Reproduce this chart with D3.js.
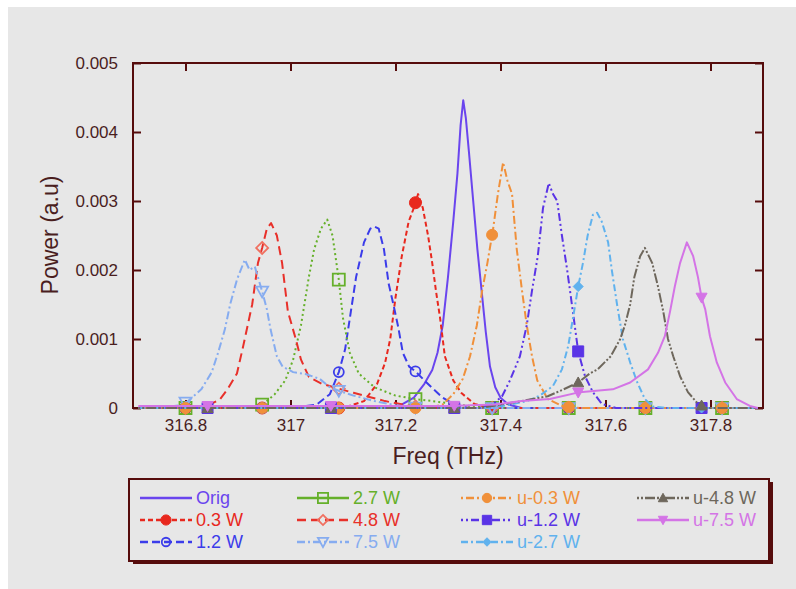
<!DOCTYPE html>
<html>
<head>
<meta charset="utf-8">
<script src="https://cdn.jsdelivr.net/npm/d3@7"></script>
<style>
  body { margin: 0; background: #ffffff; }
  svg { display: block; }
  text { font-family: "Liberation Sans", Arial, Helvetica, sans-serif; }
</style>
</head>
<body>
<svg id="chart" width="796" height="589"></svg>
<script>
// ---- axis ticks ----
const freqTicks = [316.8, 317, 317.2, 317.4, 317.6, 317.8];
const powerTicks = [0, 0.001, 0.002, 0.003, 0.004, 0.005];

// ---- spectra: [frequency (THz), power (a.u)] ----
const orig = [[316.71,0],[317.18,0],[317.21,0.00004],[317.235,0.00015],[317.255,0.00035],[317.27,0.00055],[317.28,0.0008],[317.29,0.0012],[317.3,0.0019],[317.31,0.0027],[317.318,0.0034],[317.324,0.0041],[317.329,0.00446],[317.334,0.0042],[317.34,0.0037],[317.348,0.003],[317.356,0.0023],[317.364,0.0017],[317.372,0.0011],[317.38,0.0006],[317.39,0.0003],[317.4,0.00015],[317.415,0.00005],[317.44,0],[317.89,0]];
const w03 = [[316.71,0],[317.1,0],[317.14,0.0001],[317.165,0.00035],[317.18,0.00065],[317.19,0.001],[317.2,0.0016],[317.212,0.0022],[317.225,0.0027],[317.235,0.0029],[317.243,0.0031],[317.252,0.0029],[317.262,0.0025],[317.27,0.0021],[317.277,0.0017],[317.285,0.0013],[317.294,0.00075],[317.31,0.0004],[317.325,0.00022],[317.35,0.00006],[317.38,0],[317.89,0]];
const w12 = [[316.71,0],[317.0,0],[317.05,0.00005],[317.075,0.0002],[317.092,0.00052],[317.104,0.00085],[317.115,0.0014],[317.125,0.0019],[317.14,0.0024],[317.152,0.0026],[317.16,0.00263],[317.168,0.0026],[317.178,0.0023],[317.187,0.0018],[317.196,0.0015],[317.205,0.00118],[317.214,0.0008],[317.226,0.0006],[317.238,0.00053],[317.255,0.0004],[317.27,0.00029],[317.29,0.00015],[317.31,0.00006],[317.34,0],[317.89,0]];
const w27 = [[316.71,0],[316.92,0],[316.947,0.00005],[316.97,0.0002],[316.99,0.0004],[317.005,0.0007],[317.02,0.0012],[317.035,0.0019],[317.045,0.0023],[317.058,0.0026],[317.07,0.00273],[317.08,0.0025],[317.092,0.00186],[317.1,0.0013],[317.113,0.0008],[317.13,0.0005],[317.16,0.0003],[317.2,0.00018],[317.238,0.00013],[317.27,0.0001],[317.3,0.00007],[317.34,0.00003],[317.38,0],[317.89,0]];
const w48 = [[316.71,0],[316.8,0],[316.84,0.00003],[316.865,0.00012],[316.88,0.00027],[316.898,0.0005],[316.91,0.0009],[316.927,0.0015],[316.938,0.0021],[316.946,0.00232],[316.955,0.0026],[316.963,0.00268],[316.974,0.0025],[316.984,0.0021],[316.995,0.0014],[317.01,0.001],[317.02,0.0007],[317.035,0.00045],[317.06,0.00035],[317.092,0.00028],[317.12,0.00022],[317.15,0.00016],[317.18,0.0001],[317.22,0.00004],[317.26,0],[317.89,0]];
const w75 = [[316.71,0],[316.75,0],[316.79,0.00004],[316.805,0.0001],[316.83,0.00027],[316.85,0.00052],[316.862,0.0008],[316.875,0.00114],[316.885,0.0015],[316.898,0.00186],[316.913,0.00215],[316.922,0.002],[316.932,0.00205],[316.946,0.00169],[316.955,0.00143],[316.962,0.00114],[316.974,0.00075],[316.985,0.0006],[317.005,0.00052],[317.03,0.00049],[317.056,0.00042],[317.075,0.0003],[317.092,0.00025],[317.12,0.00018],[317.16,0.0001],[317.2,0.00004],[317.25,0],[317.89,0]];
const u03 = [[316.71,0],[317.26,0],[317.29,0.00005],[317.31,0.0002],[317.328,0.00042],[317.342,0.00075],[317.355,0.0012],[317.365,0.0017],[317.375,0.0021],[317.386,0.0026],[317.395,0.0031],[317.405,0.00356],[317.413,0.0033],[317.422,0.0031],[317.431,0.0023],[317.441,0.0017],[317.45,0.0012],[317.46,0.00075],[317.47,0.0004],[317.49,0.00013],[317.52,0.00002],[317.55,0],[317.89,0]];
const u12 = [[316.71,0],[317.36,0],[317.385,0.00005],[317.403,0.00017],[317.418,0.0004],[317.437,0.00075],[317.45,0.0012],[317.46,0.0017],[317.471,0.0022],[317.481,0.0029],[317.492,0.00326],[317.5,0.0031],[317.508,0.003],[317.517,0.0025],[317.527,0.002],[317.536,0.0015],[317.548,0.00082],[317.561,0.00046],[317.576,0.00023],[317.593,0.00006],[317.62,0],[317.89,0]];
const u27 = [[316.71,0],[317.38,0],[317.42,0.00005],[317.45,0.0001],[317.475,0.00018],[317.5,0.00032],[317.517,0.00056],[317.529,0.0009],[317.538,0.0013],[317.548,0.00176],[317.557,0.0021],[317.566,0.0025],[317.576,0.0028],[317.584,0.00283],[317.593,0.0027],[317.605,0.0024],[317.612,0.002],[317.622,0.0015],[317.633,0.001],[317.647,0.00066],[317.66,0.00038],[317.675,0.00013],[317.69,0.00002],[317.72,0],[317.89,0]];
const u48 = [[316.71,0],[317.36,0],[317.4,0.00005],[317.44,0.0001],[317.49,0.00017],[317.52,0.00027],[317.548,0.00037],[317.57,0.0005],[317.585,0.00056],[317.61,0.00075],[317.628,0.001],[317.637,0.0012],[317.647,0.0015],[317.655,0.0019],[317.666,0.0022],[317.675,0.00232],[317.689,0.0021],[317.7,0.00176],[317.71,0.0014],[317.719,0.001],[317.729,0.00075],[317.742,0.00046],[317.757,0.00023],[317.774,0.00008],[317.79,0],[317.89,0]];
const u75 = [[316.71,0.00003],[317.3,0.00003],[317.39,0.00005],[317.44,0.0001],[317.494,0.00013],[317.551,0.00023],[317.614,0.00027],[317.647,0.00037],[317.681,0.00056],[317.7,0.0008],[317.713,0.00104],[317.723,0.0014],[317.732,0.00176],[317.742,0.0021],[317.755,0.0024],[317.767,0.0022],[317.776,0.0019],[317.783,0.0016],[317.79,0.00143],[317.799,0.00104],[317.812,0.00066],[317.828,0.00037],[317.85,0.00013],[317.875,0.00003],[317.89,0]];

// frequencies where symbols are placed along each trace
const markFreqW = [316.8, 316.946, 317.092, 317.238, 317.384, 317.53, 317.676, 317.822];
const markFreqU = [316.842, 317.077, 317.312, 317.548, 317.783];

// ---- trace styles ----
const series = [
  { label: "Orig",    data: orig, color: "#6a45ee", dash: null,              marker: null,       marks: [] },
  { label: "0.3 W",   data: w03,  color: "#e8281e", dash: "5,3",             marker: "circle",   filled: true,  size: 6,   marks: markFreqW },
  { label: "1.2 W",   data: w12,  color: "#3b3cea", dash: "8,4",             marker: "circle",   filled: false, size: 5,   marks: markFreqW },
  { label: "2.7 W",   data: w27,  color: "#65b02a", dash: "2,3",             marker: "square",   filled: false, size: 6,   marks: markFreqW, legendDash: null },
  { label: "4.8 W",   data: w48,  color: "#e8302a", dash: "9,5",             marker: "diamond",  filled: false, size: 6,   marks: markFreqW, light: "#f07060" },
  { label: "7.5 W",   data: w75,  color: "#86acf0", dash: "8,3,2,3",         marker: "triDown",  filled: false, size: 6,   marks: markFreqW },
  { label: "u-0.3 W", data: u03,  color: "#f0903a", dash: "2,3,8,3",         marker: "circle",   filled: true,  size: 5.5, marks: markFreqW },
  { label: "u-1.2 W", data: u12,  color: "#5a34e6", dash: "2,3,2,3,8,3",     marker: "square",   filled: true,  size: 5.5, marks: markFreqU },
  { label: "u-2.7 W", data: u27,  color: "#60b2ee", dash: "7,3,2,3",         marker: "diamond",  filled: true,  size: 5,   marks: markFreqU },
  { label: "u-4.8 W", data: u48,  color: "#6e675c", dash: "2,2,2,2,10,2",    marker: "triUp",    filled: true,  size: 5.5, marks: markFreqU },
  { label: "u-7.5 W", data: u75,  color: "#d474e6", dash: null,              marker: "triDown",  filled: true,  size: 5.5, marks: markFreqU }
];

const frameColor = "#560c0c";
const textColor = "#4a1e1e";
const bg = "#e7e7e7";

const svg = d3.select("#chart");

// page panel
svg.append("rect").attr("x", 8).attr("y", 7).attr("width", 788).attr("height", 582).attr("fill", bg);

const x = d3.scaleLinear().domain([316.7, 317.9]).range([133, 763]);
const y = d3.scaleLinear().domain([0, 0.005]).range([408, 63]);

// plot frame
svg.append("rect")
  .attr("x", x.range()[0]).attr("y", y.range()[1])
  .attr("width", x.range()[1] - x.range()[0]).attr("height", y.range()[0] - y.range()[1])
  .attr("fill", "none").attr("stroke", frameColor).attr("stroke-width", 2);

function styleAxis(g) {
  g.select(".domain").remove();
  g.selectAll(".tick line").attr("stroke", frameColor).attr("stroke-width", 2);
  g.selectAll(".tick text").attr("fill", textColor).style("font-size", "17px");
}

const fmtF = d => String(+d.toFixed(1));
const fmtP = d => String(+d.toFixed(3));

svg.append("g").attr("transform", `translate(0,${y(0)})`)
  .call(d3.axisBottom(x).tickValues(freqTicks).tickSize(-8).tickPadding(11).tickFormat(fmtF))
  .call(styleAxis);
svg.append("g").attr("transform", `translate(0,${y(0.005)})`)
  .call(d3.axisTop(x).tickValues(freqTicks).tickSize(-8).tickFormat(""))
  .call(styleAxis);
svg.append("g").attr("transform", `translate(${x(316.7)},0)`)
  .call(d3.axisLeft(y).tickValues(powerTicks).tickSize(-8).tickPadding(15).tickFormat(fmtP))
  .call(styleAxis);
svg.append("g").attr("transform", `translate(${x(317.9)},0)`)
  .call(d3.axisRight(y).tickValues(powerTicks).tickSize(-8).tickFormat(""))
  .call(styleAxis);

// axis titles
svg.append("text").attr("x", 448).attr("y", 464).attr("text-anchor", "middle")
  .attr("fill", textColor).style("font-size", "23px").text("Freq (THz)");
svg.append("text").attr("transform", "translate(58,235) rotate(-90)").attr("text-anchor", "middle")
  .attr("fill", textColor).style("font-size", "23px").text("Power (a.u)");

// symbol outlines centred on (0,0)
function markerPath(shape, s) {
  switch (shape) {
    case "circle": return `M${-s},0A${s},${s} 0 1,0 ${s},0A${s},${s} 0 1,0 ${-s},0Z`;
    case "square": return `M${-s},${-s}H${s}V${s}H${-s}Z`;
    case "diamond": return `M0,${-s}L${s},0L0,${s}L${-s},0Z`;
    case "triUp": return `M0,${-s}L${s},${s * 0.8}L${-s},${s * 0.8}Z`;
    case "triDown": return `M0,${s}L${s},${-s * 0.8}L${-s},${-s * 0.8}Z`;
  }
  return "";
}

function drawMarker(g, s, cx, cy, scale = 1) {
  const strokeCol = s.light || s.color;
  g.append("path")
    .attr("d", markerPath(s.marker, s.size * scale))
    .attr("transform", `translate(${cx},${cy})`)
    .attr("fill", s.filled ? s.color : "none")
    .attr("stroke", strokeCol)
    .attr("stroke-width", s.filled ? 1 : 1.8);
}

const bisect = d3.bisector(d => d[0]).right;
function valueAt(data, f) {
  const i = bisect(data, f);
  if (i <= 0) return data[0][1];
  if (i >= data.length) return data[data.length - 1][1];
  const a = data[i - 1], b = data[i];
  return a[1] + (f - a[0]) / (b[0] - a[0]) * (b[1] - a[1]);
}

const line = d3.line().x(d => x(d[0])).y(d => y(d[1]));
const plot = svg.append("g");

series.forEach(s => {
  plot.append("path")
    .datum(s.data)
    .attr("d", line)
    .attr("fill", "none")
    .attr("stroke", s.color)
    .attr("stroke-width", 2)
    .attr("stroke-dasharray", s.dash)
    .attr("stroke-linejoin", "round");
  if (s.marker) {
    s.marks.forEach(f => drawMarker(plot, s, x(f), y(valueAt(s.data, f))));
  }
});

// ---- legend ----
const legend = svg.append("g");
legend.append("rect").attr("x", 133).attr("y", 482).attr("width", 640).attr("height", 82).attr("fill", frameColor);
legend.append("rect").attr("x", 129).attr("y", 479).attr("width", 640).attr("height", 82)
  .attr("fill", bg).attr("stroke", frameColor).attr("stroke-width", 2);

const colX = [140, 297, 461, 637];
const rowY = [498, 520, 542];
const sampleLen = 52;

series.forEach((s, i) => {
  const cx = colX[Math.floor(i / 3)], cy = rowY[i % 3];
  legend.append("line")
    .attr("x1", cx).attr("x2", cx + sampleLen).attr("y1", cy).attr("y2", cy)
    .attr("stroke", s.color).attr("stroke-width", 2.5)
    .attr("stroke-dasharray", s.legendDash === undefined ? s.dash : s.legendDash);
  if (s.marker) drawMarker(legend, s, cx + sampleLen / 2, cy, 0.85);
  legend.append("text").attr("x", cx + sampleLen + 4).attr("y", cy).attr("dy", "0.36em")
    .attr("fill", s.color).style("font-size", "18px").text(s.label);
});
</script>
</body>
</html>
